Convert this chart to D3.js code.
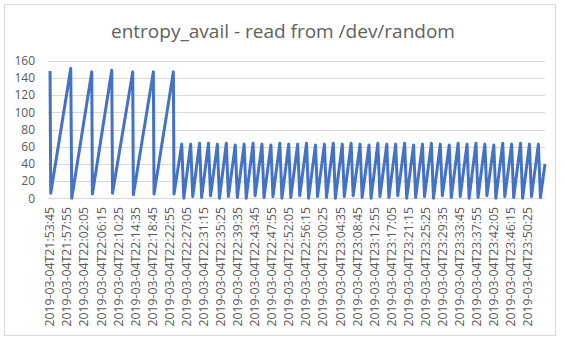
<!DOCTYPE html>
<html>
<head>
<meta charset="utf-8">
<script src="https://cdn.jsdelivr.net/npm/d3@7"></script>
<style>
  body { margin: 0; background: #fff; }
  text { font-family: "Open Sans", "Noto Sans", sans-serif; fill: #595959; }
</style>
</head>
<body>
<script>
// category labels on the x axis (one every 4 min 10 s)
let tickLabels = [
  "2019-03-04T21:53:45", "2019-03-04T21:57:55", "2019-03-04T22:02:05", "2019-03-04T22:06:15",
  "2019-03-04T22:10:25", "2019-03-04T22:14:35", "2019-03-04T22:18:45", "2019-03-04T22:22:55",
  "2019-03-04T22:27:05", "2019-03-04T22:31:15", "2019-03-04T22:35:25", "2019-03-04T22:39:35",
  "2019-03-04T22:43:45", "2019-03-04T22:47:55", "2019-03-04T22:52:05", "2019-03-04T22:56:15",
  "2019-03-04T23:00:25", "2019-03-04T23:04:35", "2019-03-04T23:08:45", "2019-03-04T23:12:55",
  "2019-03-04T23:17:05", "2019-03-04T23:21:15", "2019-03-04T23:25:25", "2019-03-04T23:29:35",
  "2019-03-04T23:33:45", "2019-03-04T23:37:55", "2019-03-04T23:42:05", "2019-03-04T23:46:15",
  "2019-03-04T23:50:25"
]
let yTicks = [0, 20, 40, 60, 80, 100, 120, 140, 160]

// seconds since 21:53:45 / entropy value, turning points of the line
// first phase: slow refill up to ~150
let slowSec = [0, 10, 303, 318, 611, 620, 904, 915, 1211, 1220, 1513, 1523, 1806, 1816]
let slowVal = [148, 6, 151, 0, 147, 5, 149, 6, 147, 4, 147, 5, 147, 5]

// second phase: fast refill up to ~63
let peakSec = [1929, 2060, 2190, 2321, 2451, 2582, 2713, 2843, 2974, 3104, 3235, 3366, 3496, 3627,
  3757, 3888, 4019, 4149, 4280, 4410, 4541, 4672, 4802, 4933, 5063, 5194, 5325, 5455, 5586, 5716,
  5847, 5978, 6108, 6239, 6369, 6500, 6631, 6761, 6892, 7022, 7153]
let peakVal = [63, 63, 64, 64, 63, 64, 62, 63, 64, 63, 62, 64, 63, 63, 64, 62, 63, 64, 63, 64, 63,
  62, 64, 63, 63, 64, 62, 63, 64, 63, 62, 64, 63, 64, 63, 62, 64, 63, 64, 63, 63]
let troughSec = [1959, 2090, 2220, 2351, 2481, 2612, 2743, 2873, 3004, 3134, 3265, 3396, 3526, 3657,
  3787, 3918, 4049, 4179, 4310, 4440, 4571, 4702, 4832, 4963, 5093, 5224, 5355, 5485, 5616, 5746,
  5877, 6008, 6138, 6269, 6399, 6530, 6661, 6791, 6922, 7052, 7183]
let troughVal = [0, 2, 1, 3, 0, 2, 1, 0, 3, 1, 2, 0, 1, 3, 0, 2, 1, 0, 2, 3, 1, 0, 2, 1, 3, 0, 1,
  2, 0, 3, 1, 2, 0, 1, 3, 0, 2, 1, 0, 2, 1]
let lastSec = 7250
let lastVal = 40

let width = 565
let height = 342

let points = []
slowSec.forEach((s, i) => points.push({sec: s, val: slowVal[i]}))
peakSec.forEach((s, i) => points.push({sec: s, val: peakVal[i]}))
troughSec.forEach((s, i) => points.push({sec: s, val: troughVal[i]}))
points.push({sec: lastSec, val: lastVal})
points.sort((a, b) => a.sec - b.sec)

let t0 = d3.isoParse(tickLabels[0])
let tickSec = tickLabels.map(l => (d3.isoParse(l) - t0) / 1000)

let svg = d3.select('body')
  .append('svg')
  .attr('width', width)
  .attr('height', height)

// chart frame
svg.append('rect')
  .attr('x', 4.5)
  .attr('y', 4.5)
  .attr('width', 551)
  .attr('height', 331)
  .attr('fill', 'white')
  .attr('stroke', '#d9d9d9')

svg.append('text')
  .attr('x', 283)
  .attr('y', 38)
  .attr('text-anchor', 'middle')
  .style('font-size', '19px')
  .style('fill', '#606060')
  .text('entropy_avail - read from /dev/random')

let x = d3.scaleLinear()
  .domain([-30, 7250])
  .range([48, 545])

let y = d3.scaleLinear()
  .domain([0, 160])
  .range([198.3, 60.7])

// gridlines
svg.append('g')
  .selectAll('line')
  .data(yTicks)
  .enter()
  .append('line')
  .attr('x1', x.range()[0])
  .attr('x2', x.range()[1])
  .attr('y1', d => Math.round(y(d)) + 0.5)
  .attr('y2', d => Math.round(y(d)) + 0.5)
  .attr('stroke', '#d9d9d9')
  .attr('stroke-width', 1)

// y labels
svg.append('g')
  .selectAll('text')
  .data(yTicks)
  .enter()
  .append('text')
  .attr('x', 35)
  .attr('y', d => y(d))
  .attr('dy', '0.35em')
  .attr('text-anchor', 'end')
  .style('font-size', '12px')
  .text(d => d)

// x labels, rotated
svg.append('g')
  .selectAll('text')
  .data(tickLabels)
  .enter()
  .append('text')
  .attr('transform', (d, i) => `translate(${x(tickSec[i])},207) rotate(-90)`)
  .attr('dy', '0.35em')
  .attr('text-anchor', 'end')
  .style('font-size', '12.3px')
  .text(d => d)

let line = d3.line()
  .x(d => x(d.sec))
  .y(d => y(d.val))

svg.append('path')
  .datum(points)
  .attr('d', line)
  .attr('fill', 'none')
  .attr('stroke', '#4472c4')
  .attr('stroke-width', 3)
  .attr('stroke-linejoin', 'round')
</script>
</body>
</html>
